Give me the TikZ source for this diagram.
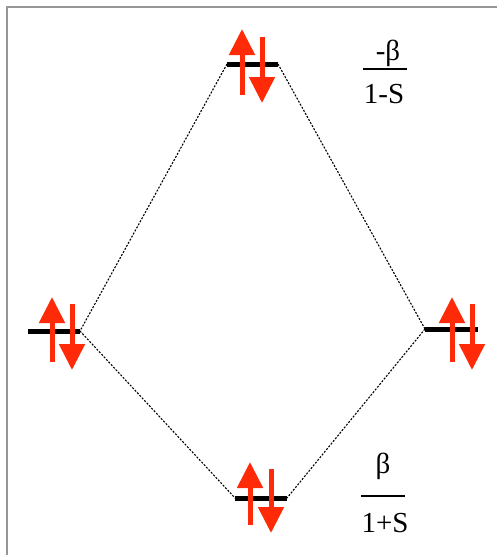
\documentclass[tikz,border=0pt]{standalone}
\usepackage{fontspec}
\setmainfont{Liberation Serif}
\usetikzlibrary{arrows.meta}
\definecolor{spinred}{RGB}{255,42,8}
\definecolor{framegray}{RGB}{150,150,150}
\tikzset{
  levelbar/.style={line width=5pt, black, line cap=butt},
  corr/.style={line width=1.1pt, black, dash pattern=on 2pt off 1.5pt},
  spin/.style={line width=5pt, spinred, -{Triangle[length=26pt,width=25pt]}},
  fracbar/.style={line width=1.5pt, black},
  lab/.style={font=\fontsize{29}{29}\selectfont, inner sep=0pt, anchor=base},
}
\begin{document}
\begin{tikzpicture}[x=1pt,y=-1pt]
\useasboundingbox (0,0) rectangle (497,555);
% frame (left and top only)
\coordinate (fa) at (7,555);
\coordinate (fb) at (7,7);
\coordinate (fc) at (497,7);
\draw[framegray, line width=2.5pt] (fa) -- (fb) -- (fc);

% level end points
\coordinate (T1) at (227,64);  \coordinate (T2) at (278,64);
\coordinate (L1) at (28,331);  \coordinate (L2) at (80,331);
\coordinate (R1) at (425,329); \coordinate (R2) at (478,329);
\coordinate (B1) at (235,498); \coordinate (B2) at (287,498);

% correlation lines
\draw[corr] (T1) -- (L2);
\draw[corr] (T2) -- (R1);
\draw[corr] (L2) -- (B1);
\draw[corr] (R1) -- (B2);

% levels
\draw[levelbar] (T1) -- (T2);
\draw[levelbar] (L1) -- (L2);
\draw[levelbar] (R1) -- (R2);
\draw[levelbar] (B1) -- (B2);

% spin arrows
\coordinate (tu0) at (242,95);  \coordinate (tu1) at (242,29);
\coordinate (td0) at (262,37);  \coordinate (td1) at (262,103);
\coordinate (lu0) at (52,362);  \coordinate (lu1) at (52,297);
\coordinate (ld0) at (72,304);  \coordinate (ld1) at (72,370);
\coordinate (ru0) at (452,362); \coordinate (ru1) at (452,297);
\coordinate (rd0) at (472,304); \coordinate (rd1) at (472,370);
\coordinate (bu0) at (250,525); \coordinate (bu1) at (250,462);
\coordinate (bd0) at (271,469); \coordinate (bd1) at (271,533);
\draw[spin] (tu0) -- (tu1);
\draw[spin] (td0) -- (td1);
\draw[spin] (lu0) -- (lu1);
\draw[spin] (ld0) -- (ld1);
\draw[spin] (ru0) -- (ru1);
\draw[spin] (rd0) -- (rd1);
\draw[spin] (bu0) -- (bu1);
\draw[spin] (bd0) -- (bd1);

% labels
\node[lab] (tnum) at (388,60) {-β};
\coordinate (tf1) at (363,69); \coordinate (tf2) at (407,69);
\draw[fracbar] (tf1) -- (tf2);
\node[lab] (tden) at (384,103) {1-S};

\node[lab] (bnum) at (383,473) {β};
\coordinate (bf1) at (361,496); \coordinate (bf2) at (405,496);
\draw[fracbar] (bf1) -- (bf2);
\node[lab] (bden) at (385,532) {1+S};
\end{tikzpicture}
\end{document}
